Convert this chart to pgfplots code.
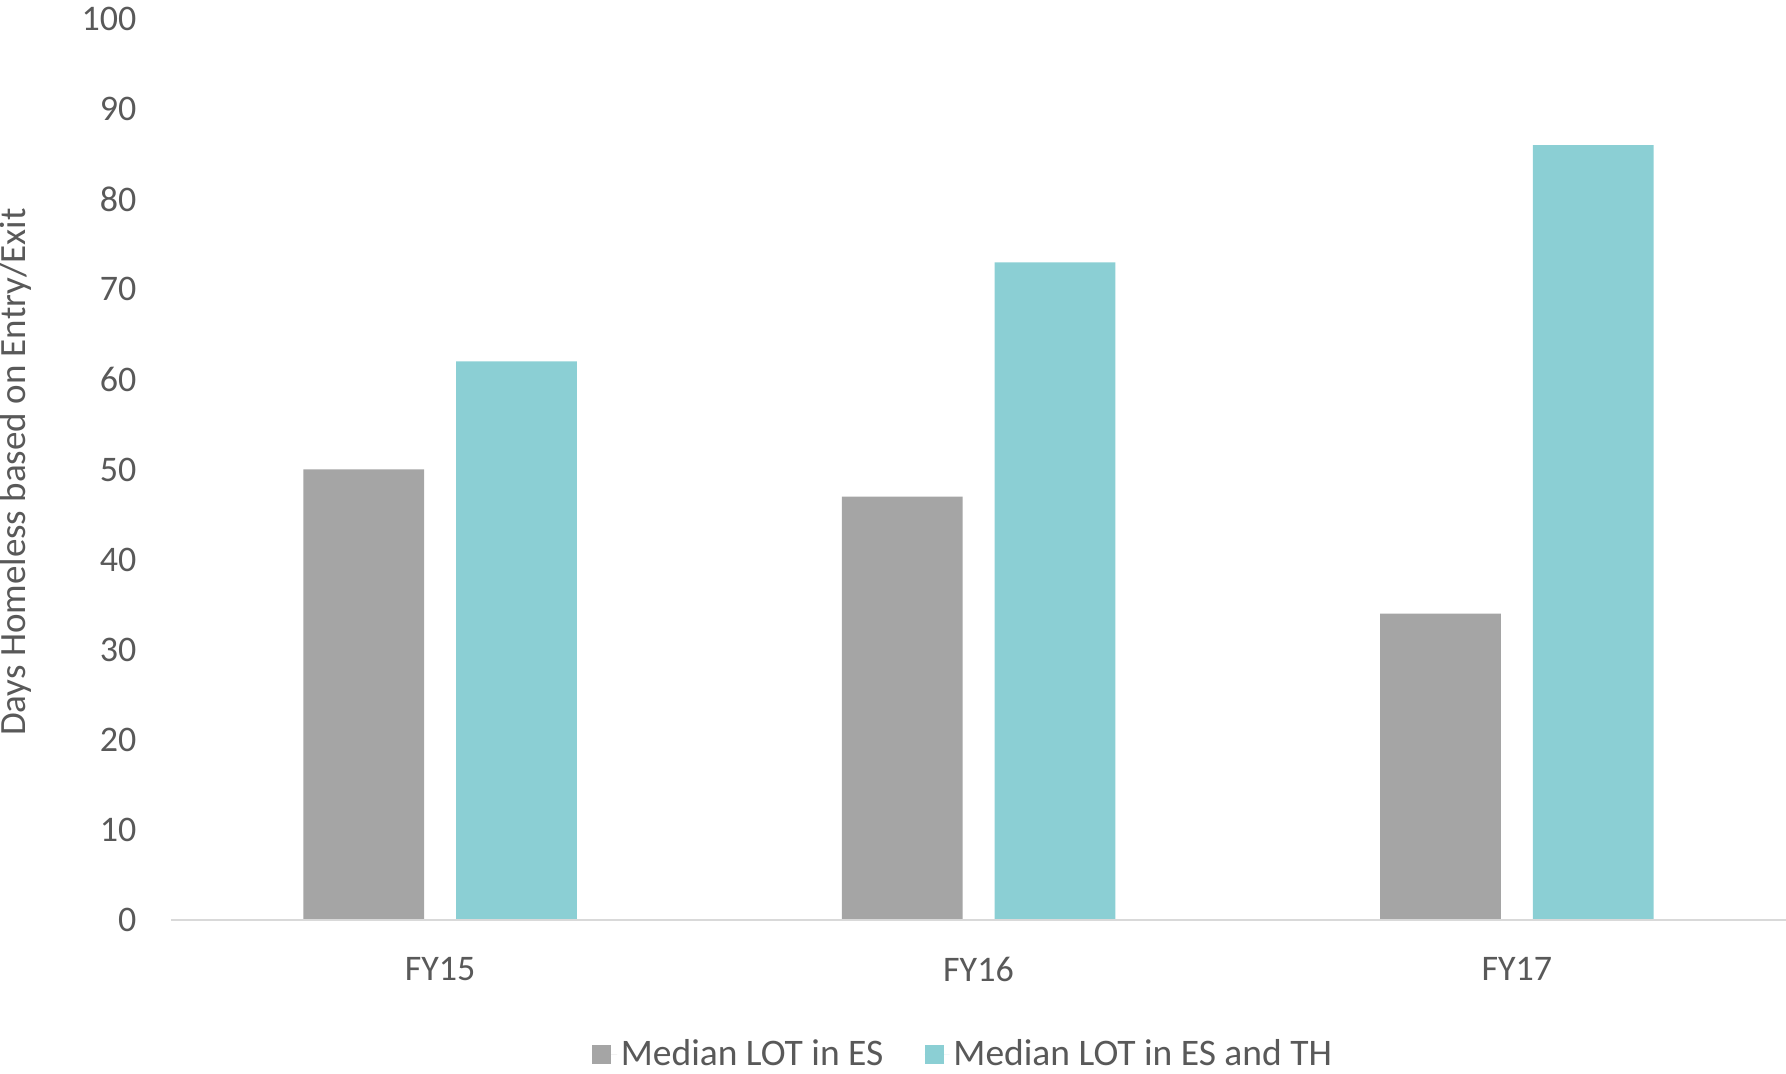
\documentclass[border=0pt]{standalone}
\usepackage{pgfplots}
\pgfplotsset{compat=1.18}
\usepackage{fontspec}
\setmainfont{Carlito}
\definecolor{txt}{HTML}{595959}
\definecolor{gbar}{HTML}{A5A5A5}
\definecolor{tbar}{HTML}{8BCFD4}
\definecolor{axl}{HTML}{D9D9D9}
\begin{document}
\begin{tikzpicture}
\begin{axis}[
  scale only axis,
  width=646pt, height=360.4pt,
  xmin=-0.5, xmax=2.5, ymin=0, ymax=100,
  ybar=12.8pt, bar width=48.3pt,
  xtick={0,1,2}, xticklabels={FY15,FY16,FY17},
  ytick={0,10,...,100},
  major tick length=0pt,
  axis line style={draw=none},
  clip=false,
  /pgf/number format/assume math mode=true,
  ticklabel style={font=\fontsize{14.4pt}{16pt}\selectfont, text=txt, inner sep=0pt},
  yticklabel style={anchor=east, xshift=-13.7pt},
  xticklabel style={anchor=center, yshift=-19.6pt},
  legend style={at={(rel axis cs:0.491,-0.149)}, anchor=center, draw=none,
    font=\fontsize{15pt}{17pt}\selectfont, text=txt,
    /tikz/every even column/.append style={column sep=15pt},
    nodes={inner sep=1.5pt}},
  legend columns=2,
  legend image code/.code={\fill[#1] (0pt,-3.8pt) rectangle (7.6pt,3.8pt); \path (0pt,0pt) -- (10pt,0pt);},
]
\addplot[fill=gbar, draw=none] coordinates {(0,50) (1,47) (2,34)};
\addlegendentry{Median LOT in ES}
\addplot[fill=tbar, draw=none] coordinates {(0,62) (1,73) (2,86)};
\addlegendentry{Median LOT in ES and TH}
\draw[axl, line width=0.9pt] (rel axis cs:0,0) -- (rel axis cs:1,0);
\node[rotate=90, anchor=center, text=txt, font=\fontsize{14.8pt}{17pt}\selectfont] at (axis cs:-0.788,49.7) {Days Homeless based on Entry/Exit};
\coordinate (ll) at (rel axis cs:0,0);
\coordinate (ur) at (rel axis cs:1,1);
\end{axis}
\pgfresetboundingbox
\path[use as bounding box] ([shift={(-68.4pt,-61.6pt)}]ll) rectangle ([shift={(0pt,7.6pt)}]ur);
\end{tikzpicture}
\end{document}
